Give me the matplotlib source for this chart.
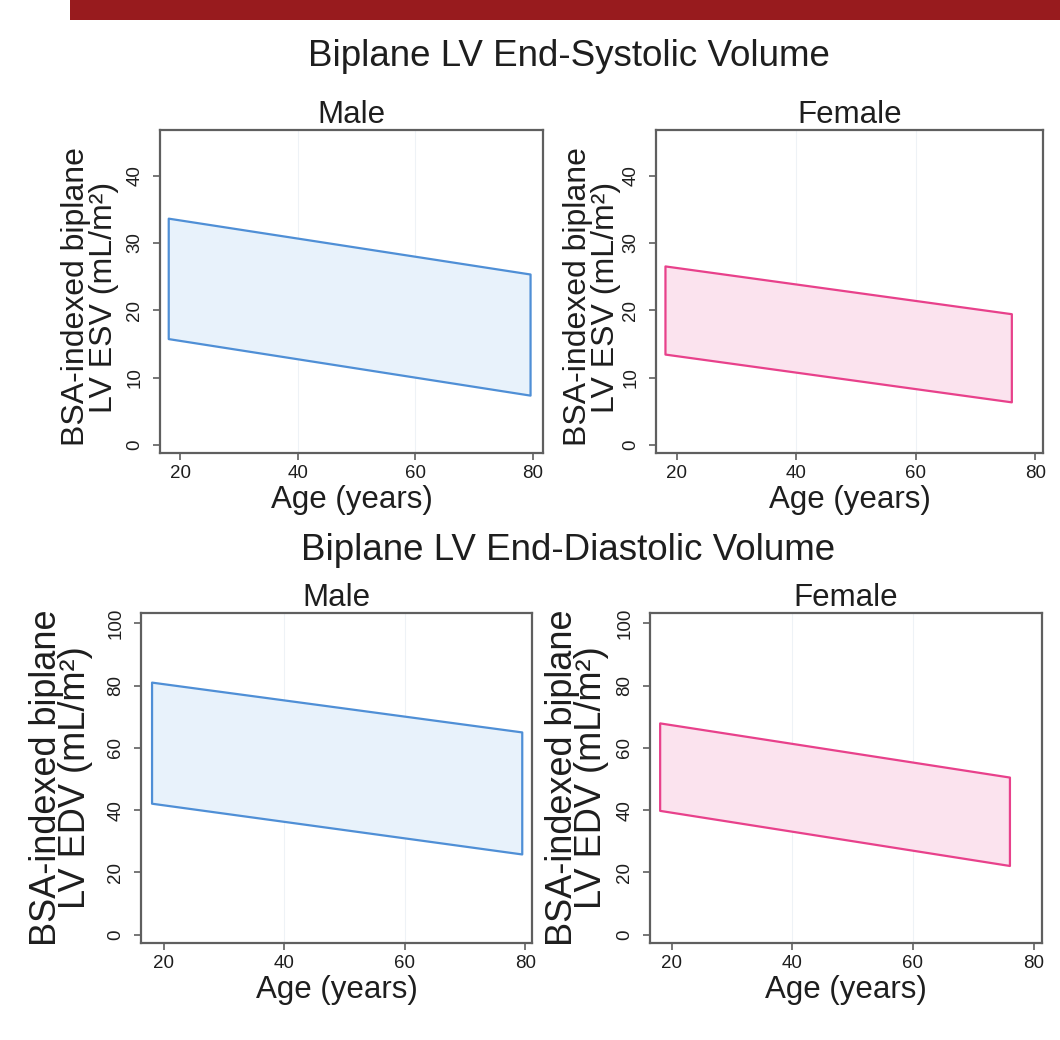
import matplotlib
matplotlib.use("Agg")
import matplotlib.pyplot as plt
from matplotlib.patches import Rectangle

plt.rcParams["font.family"] = ["Liberation Sans", "DejaVu Sans"]

# reference bands (upper / lower limits) vs age
esv_male_age = [18, 79.5]
esv_male_upper = [33.7, 25.4]
esv_male_lower = [15.8, 7.4]

esv_female_age = [18, 76]
esv_female_upper = [26.6, 19.5]
esv_female_lower = [13.5, 6.4]

edv_male_age = [18, 79.4]
edv_male_upper = [81.1, 65.1]
edv_male_lower = [42.2, 25.9]

edv_female_age = [18, 76]
edv_female_upper = [68.0, 50.6]
edv_female_lower = [39.9, 22.2]

x_ticks = [20, 40, 60, 80]
esv_ticks = [0, 10, 20, 30, 40]
edv_ticks = [0, 20, 40, 60, 80, 100]

W, H = 1060, 1040
fig = plt.figure(figsize=(W / 100, H / 100), dpi=100)

# red banner at the top
fig.patches.append(Rectangle((70 / W, 1 - 20 / H), 1, 20 / H, transform=fig.transFigure,
                             facecolor="#981b1e", edgecolor="none"))

male_edge, male_fill = "#4f8fd6", "#e8f2fb"
female_edge, female_fill = "#e8418b", "#fbe3ee"
frame = "#5f5f5f"
txt = "#1e1e1e"


def make_axes(left, right, top, bottom):
    return fig.add_axes([left / W, 1 - bottom / H, (right - left) / W, (bottom - top) / H])


def style(ax, xlim, ylim, yticks, ylabel, title, label_x, label_y, label_size, label_ls):
    ax.set_xlim(*xlim)
    ax.set_ylim(*ylim)
    ax.set_xticks(x_ticks)
    ax.set_yticks(yticks)
    for s in ax.spines.values():
        s.set_color(frame)
        s.set_linewidth(1.6)
    ax.tick_params(direction="out", length=5, width=1.2, color=frame, labelsize=13.5,
                   labelcolor=txt)
    ax.tick_params(axis="y", pad=7)
    for lab in ax.get_yticklabels():
        lab.set_rotation(90)
        lab.set_va("center")
    for x in x_ticks[1:3]:
        ax.axvline(x, color="#eef2f6", lw=0.8, zorder=0)
    ax.set_xlabel("Age (years)", fontsize=22.5, color=txt, labelpad=2)
    ax.set_ylabel(ylabel, fontsize=label_size, color=txt, linespacing=label_ls)
    ax.yaxis.set_label_coords(label_x, label_y)
    ax.set_title(title, fontsize=22.5, color=txt, pad=5)


panels = [
    ((160, 543, 130, 453), (16.6, 81.7), (-1.2, 46.8), esv_ticks, "BSA-indexed biplane\nLV ESV (mL/m²)",
     "Male", -0.106, 0.483, 23, 0.94, esv_male_age, esv_male_lower, esv_male_upper, male_edge, male_fill),
    ((656, 1043, 130, 453), (16.5, 81.3), (-1.2, 46.8), esv_ticks, "BSA-indexed biplane\nLV ESV (mL/m²)",
     "Female", -0.09, 0.483, 23, 0.94, esv_female_age, esv_female_lower, esv_female_upper, female_edge, female_fill),
    ((141, 532, 613, 943), (16.25, 81.1), (-2.7, 103.3), edv_ticks, "BSA-indexed biplane\nLV EDV (mL/m²)",
     "Male", -0.122, 0.5, 26, 0.78, edv_male_age, edv_male_lower, edv_male_upper, male_edge, male_fill),
    ((650, 1042, 613, 943), (16.4, 81.4), (-2.7, 103.3), edv_ticks, "BSA-indexed biplane\nLV EDV (mL/m²)",
     "Female", -0.104, 0.5, 26, 0.8, edv_female_age, edv_female_lower, edv_female_upper, female_edge, female_fill),
]

for box, xlim, ylim, yt, ylab, title, lx, ly, lsz, lls, age, lo, hi, ec, fc in panels:
    ax = make_axes(*box)
    ax.fill_between(age, lo, hi, facecolor=fc, edgecolor=ec, linewidth=1.6)
    style(ax, xlim, ylim, yt, ylab, title, lx, ly, lsz, lls)

fig.text(569 / W, 1 - 57 / H, "Biplane LV End-Systolic Volume", ha="center", va="center",
         fontsize=26.5, color=txt)
fig.text(568 / W, 1 - 551 / H, "Biplane LV End-Diastolic Volume", ha="center", va="center",
         fontsize=26.5, color=txt)

fig.savefig("out.png", dpi=100)
